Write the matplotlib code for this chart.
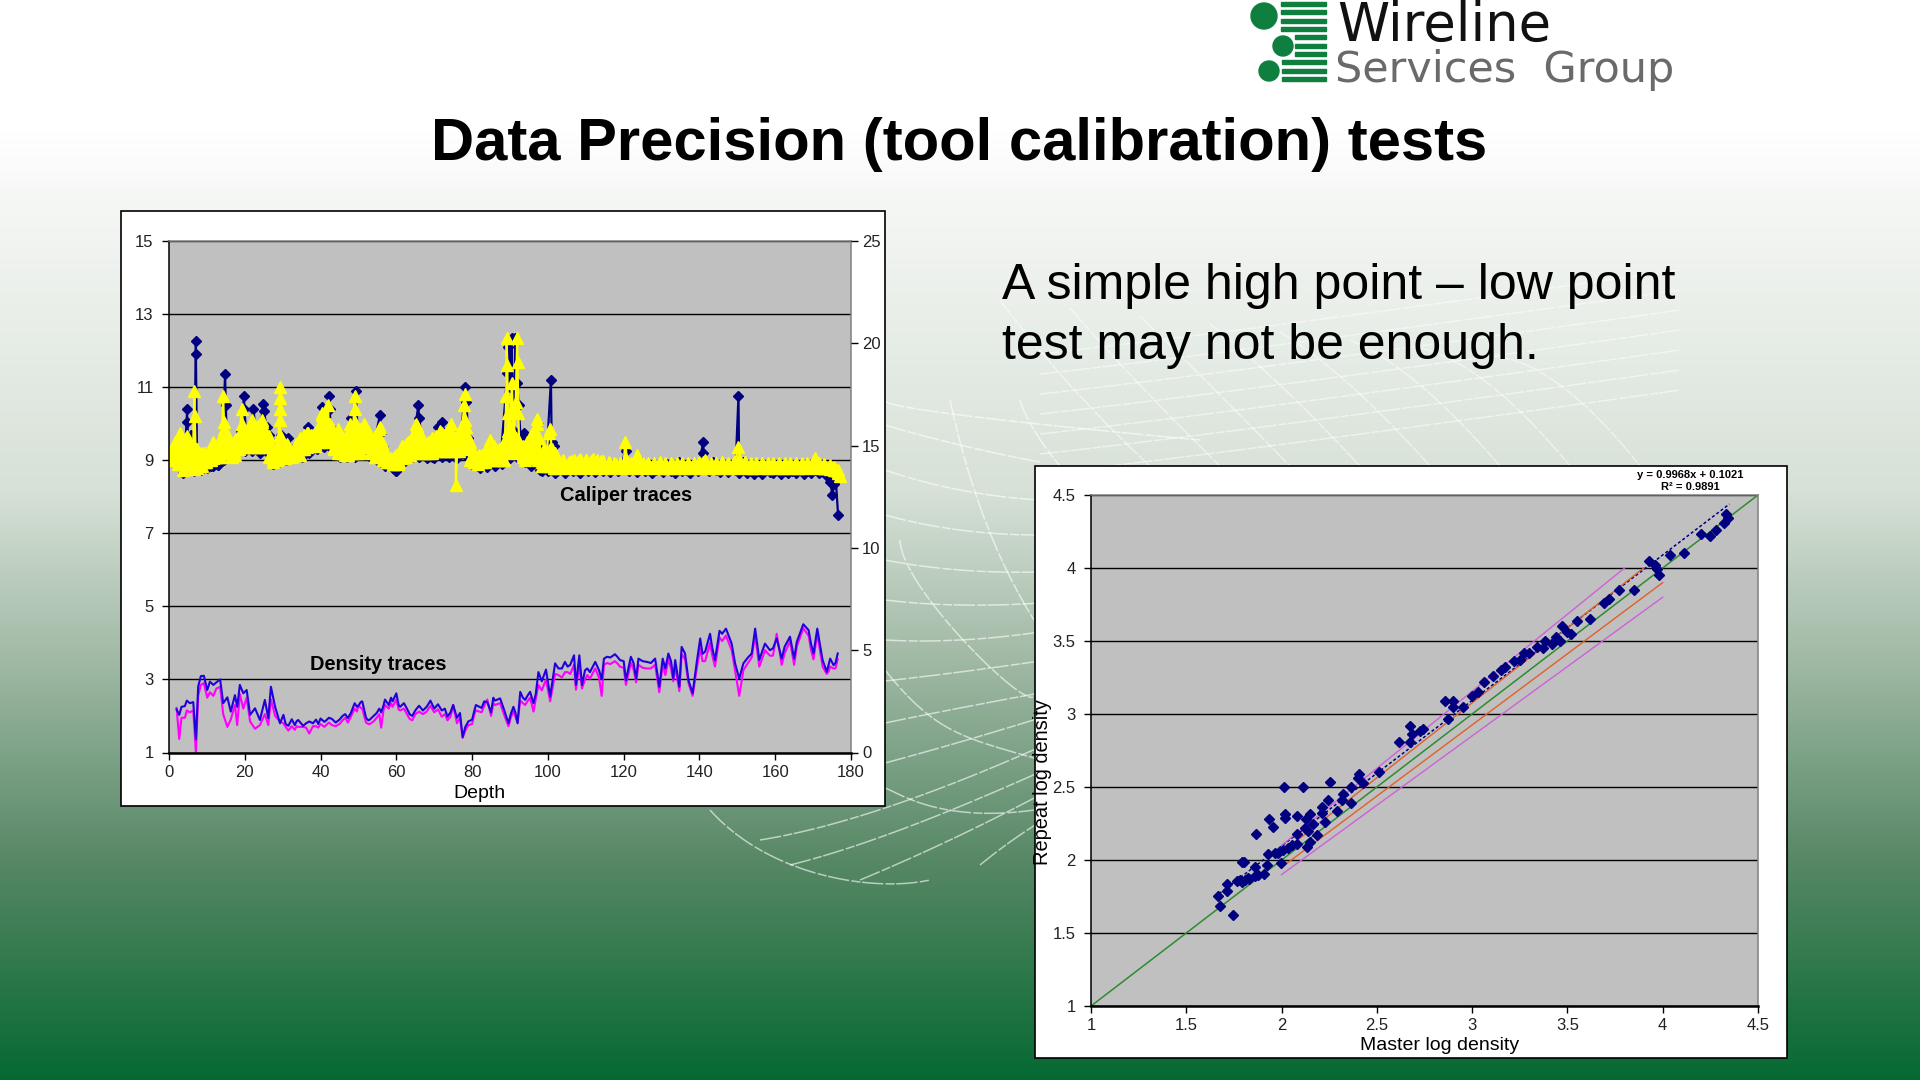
import numpy as np
import matplotlib
matplotlib.use("Agg")
import matplotlib.pyplot as plt
from matplotlib.patches import Rectangle, Circle

plt.rcParams['font.family'] = ['Liberation Sans', 'DejaVu Sans']

# caliper traces (depth, reading)
navy_depth = [0.8, 1.3, 1.8, 2.4, 3.0, 3.8, 4.3, 4.8, 4.8, 5.3,
              5.8, 6.3, 6.6, 7.1, 7.1, 7.4, 8.0, 9.0, 10.0, 11.0,
              12.0, 13.0, 14.0, 14.8, 15.0, 15.3, 16.0, 17.0, 18.0, 19.0,
              19.8, 19.9, 20.5, 21.2, 22.3, 23.0, 24.0, 24.9, 25.0, 25.8,
              26.5, 27.2, 27.5, 28.0, 29.0, 29.5, 30.0, 31.5, 32.5, 33.5,
              35.0, 36.8, 38.0, 39.5, 40.3, 41.0, 42.3, 42.4, 43.0, 44.0,
              45.0, 46.5, 47.5, 48.0, 49.0, 49.3, 50.0, 51.0, 52.0, 53.5,
              55.7, 55.9, 56.5, 57.5, 58.5, 60.0, 61.0, 62.5, 64.0, 65.8,
              66.0, 67.0, 68.4, 69.5, 71.0, 72.0, 73.0, 74.0, 75.5, 77.0,
              78.0, 78.5, 79.0, 80.0, 81.5, 83.0, 84.7, 86.0, 87.5, 89.3,
              89.6, 90.0, 90.4, 90.6, 91.0, 91.4, 91.9, 92.3, 92.8, 93.8,
              94.5, 95.5, 96.5, 97.5, 97.8, 98.5, 99.5, 100.8, 101.0, 101.5,
              102.5, 103.5, 104.5, 105.5, 106.5, 107.5, 108.5, 109.5, 110.5, 111.5,
              112.5, 113.5, 114.5, 115.5, 116.5, 117.5, 118.5, 119.5, 120.4, 120.6,
              121.5, 122.5, 123.5, 124.5, 125.5, 126.5, 127.5, 128.5, 129.5, 130.5,
              131.5, 132.5, 133.5, 134.5, 135.5, 136.5, 137.5, 138.5, 139.5, 141.0,
              141.0, 141.5, 142.5, 143.5, 144.5, 145.5, 146.5, 147.5, 148.5, 149.5,
              150.3, 150.5, 151.5, 152.5, 153.5, 154.5, 155.5, 156.5, 157.5, 158.5,
              159.5, 160.5, 161.5, 162.5, 163.5, 164.5, 165.5, 166.5, 167.5, 168.5,
              169.5, 170.5, 171.5, 172.5, 173.5, 174.5, 175.1, 175.5, 176.0, 176.6]
navy_val = [9.1, 9.0, 9.3, 9.05, 9.5, 8.65, 9.4, 10.4, 10.05, 9.3,
            9.7, 9.0, 8.7, 12.25, 11.9, 9.1, 8.85, 8.8, 9.2, 8.85,
            9.2, 8.87, 9.1, 11.35, 10.5, 9.3, 9.4, 9.15, 9.3, 9.8,
            10.75, 10.4, 9.5, 9.4, 10.4, 9.6, 9.8, 10.55, 10.35, 9.9,
            9.7, 9.5, 8.9, 9.3, 9.1, 9.7, 9.3, 9.6, 9.2, 9.4,
            9.4, 9.9, 9.45, 9.5, 10.45, 9.7, 10.75, 10.4, 9.3, 9.8,
            9.25, 9.2, 9.2, 10.15, 9.6, 10.9, 9.3, 9.2, 9.7, 9.15,
            10.25, 9.75, 9.35, 9.1, 8.85, 8.7, 8.95, 9.15, 9.15, 10.5,
            10.15, 9.4, 9.1, 9.1, 9.9, 10.05, 9.7, 9.3, 9.1, 9.3,
            11.0, 10.6, 9.6, 8.9, 8.85, 8.95, 9.2, 9.1, 9.0, 11.4,
            12.1, 11.0, 12.35, 11.2, 9.8, 12.35, 11.1, 10.5, 9.6, 9.75,
            9.0, 8.85, 9.2, 10.0, 9.3, 8.7, 8.8, 11.2, 9.5, 9.4,
            8.7, 8.75, 8.65, 8.78, 8.7, 8.78, 8.65, 8.75, 8.7, 8.78,
            8.67, 8.75, 8.7, 8.78, 8.68, 8.75, 8.7, 8.75, 9.35, 9.25,
            8.7, 8.75, 8.68, 8.95, 8.7, 8.78, 8.65, 8.72, 8.78, 8.68,
            8.9, 8.7, 8.65, 8.95, 8.7, 8.72, 8.66, 8.75, 8.7, 9.49,
            9.21, 8.75, 8.7, 8.95, 8.72, 8.68, 8.75, 8.68, 8.78, 8.72,
            10.77, 8.65, 8.95, 8.65, 8.72, 8.62, 8.7, 8.63, 8.72, 8.68,
            8.65, 8.72, 8.63, 8.7, 8.66, 8.7, 8.65, 8.72, 8.62, 8.7,
            8.66, 8.72, 8.64, 8.68, 8.6, 8.4, 8.05, 8.35, 8.45, 7.49]

# lower edge of the navy band below the yellow one
navy_low_depth = [1.0, 2.5, 4.0, 5.5, 7.0, 8.5, 10.0, 11.5, 13.0, 14.5,
                  16.0, 18.0, 20.0, 22.0, 24.0, 26.0, 27.5, 29.0, 31.0, 33.0,
                  35.0, 37.0, 39.0, 41.0, 43.0, 45.0, 47.0, 49.0, 51.0, 53.0,
                  55.0, 57.0, 59.0, 60.0, 62.0, 64.0, 66.0, 68.0, 70.0, 72.0,
                  74.0, 76.0, 78.0, 80.0, 82.0, 84.0, 86.0, 88.0, 90.0, 92.0,
                  94.0, 96.0, 98.0, 100.0, 102.0]
navy_low_val = [9.1, 9.0, 8.7, 8.8, 8.72, 8.72, 8.8, 8.85, 8.87, 9.0,
                9.15, 9.2, 9.25, 9.25, 9.2, 9.2, 8.9, 8.95, 9.0, 9.05,
                9.1, 9.2, 9.3, 9.35, 9.4, 9.1, 9.1, 9.1, 9.15, 9.1,
                9.0, 8.85, 8.8, 8.7, 8.95, 9.05, 9.1, 9.05, 9.05, 9.1,
                9.1, 9.05, 9.15, 8.9, 8.8, 8.82, 8.85, 8.9, 9.05, 9.05,
                8.95, 8.9, 8.72, 8.7, 8.65]

yellow_depth = [0.8, 1.3, 1.8, 2.3, 2.9, 3.3, 3.8, 4.2, 4.7, 5.2,
                5.8, 6.3, 6.7, 6.8, 7.0, 7.4, 8.0, 8.6, 9.2, 9.8,
                10.4, 11.0, 11.7, 12.2, 12.8, 13.4, 14.0, 14.3, 14.5, 14.8,
                15.4, 16.0, 16.6, 17.2, 17.8, 18.4, 19.2, 19.2, 19.3, 19.5,
                20.0, 20.6, 21.2, 21.8, 22.2, 22.8, 23.4, 24.0, 24.6, 25.2,
                25.8, 26.4, 27.0, 27.4, 27.9, 28.4, 28.9, 29.3, 29.3, 29.3,
                29.3, 29.3, 29.6, 30.0, 30.6, 31.2, 31.8, 32.4, 33.0, 33.6,
                34.2, 34.8, 35.4, 36.0, 36.8, 37.4, 38.0, 38.6, 39.2, 39.8,
                40.3, 40.8, 41.4, 42.0, 42.1, 42.3, 42.9, 43.5, 44.1, 44.7,
                45.3, 45.9, 46.5, 47.2, 47.8, 48.4, 49.0, 49.0, 49.1, 49.2,
                49.8, 50.4, 51.0, 51.7, 52.4, 53.0, 53.6, 54.2, 54.8, 55.4,
                55.7, 56.2, 56.8, 57.4, 58.0, 58.6, 59.2, 60.0, 60.6, 61.2,
                61.8, 62.4, 63.0, 63.6, 64.2, 64.8, 65.3, 65.6, 66.2, 66.8,
                67.4, 68.0, 68.4, 69.0, 69.6, 70.2, 70.8, 71.4, 72.0, 72.6,
                73.2, 73.8, 74.4, 75.0, 75.7, 75.7, 76.2, 76.8, 77.4, 77.9,
                78.1, 78.2, 78.6, 79.0, 79.6, 80.2, 80.7, 81.3, 81.9, 82.5,
                83.1, 83.7, 84.3, 84.7, 85.3, 85.9, 86.5, 87.1, 87.7, 88.2,
                88.7, 89.0, 89.1, 89.3, 89.4, 89.6, 90.0, 90.5, 90.7, 91.0,
                91.5, 91.9, 92.0, 92.2, 92.4, 92.8, 93.3, 94.0, 94.6, 95.2,
                95.8, 96.3, 97.0, 97.2, 97.5, 98.0, 98.5, 99.0, 99.6, 100.2,
                100.6, 101.0, 101.5, 102.0, 102.6, 103.0, 104.0, 105.0, 106.0, 107.0,
                108.0, 109.0, 110.0, 111.0, 112.0, 113.0, 114.0, 115.0, 116.0, 117.0,
                118.0, 119.0, 120.0, 120.4, 121.0, 122.0, 123.4, 124.0, 125.0, 126.0,
                127.0, 128.0, 129.0, 130.0, 131.0, 132.0, 133.0, 134.0, 135.0, 136.0,
                137.0, 138.0, 139.0, 140.0, 141.0, 142.0, 143.0, 144.0, 145.0, 146.0,
                147.0, 148.0, 149.0, 150.3, 151.0, 152.0, 153.0, 154.0, 155.0, 156.0,
                157.0, 158.0, 159.0, 160.0, 161.0, 162.0, 163.0, 164.0, 165.0, 166.0,
                167.0, 168.0, 169.0, 170.5, 171.0, 172.0, 173.0, 174.0, 175.0, 176.0,
                177.0]
yellow_val = [9.1, 9.3, 9.45, 9.2, 9.75, 9.1, 8.72, 9.3, 9.65, 9.05,
              9.3, 9.0, 10.9, 10.2, 9.3, 8.9, 9.1, 8.85, 9.2, 8.95,
              9.15, 9.0, 9.5, 9.1, 9.25, 9.1, 9.7, 10.75, 10.05, 9.6,
              9.5, 9.3, 9.1, 9.25, 9.55, 9.4, 10.4, 10.0, 9.7, 9.4,
              9.8, 9.4, 9.8, 10.1, 9.5, 9.9, 9.4, 9.9, 10.1, 9.7,
              9.5, 9.65, 9.1, 8.95, 9.3, 9.0, 9.4, 11.0, 10.7, 10.4,
              10.1, 9.7, 9.05, 9.2, 9.35, 9.45, 9.2, 9.15, 9.3, 9.2,
              9.4, 9.3, 9.6, 9.5, 9.75, 9.6, 9.65, 9.45, 9.6, 9.8,
              10.3, 9.8, 10.1, 10.5, 10.0, 9.5, 9.7, 9.35, 9.6, 9.8,
              9.5, 9.2, 9.4, 9.15, 10.0, 9.4, 10.75, 10.4, 10.05, 9.6,
              9.2, 9.5, 9.8, 9.95, 9.7, 9.2, 9.5, 9.3, 9.55, 9.85,
              9.9, 9.5, 9.3, 9.1, 8.95, 9.0, 8.9, 9.15, 8.95, 9.15,
              9.35, 9.15, 9.5, 9.2, 9.3, 9.5, 10.0, 9.7, 9.5, 9.3,
              9.4, 9.25, 9.5, 9.25, 9.45, 9.3, 9.6, 9.3, 9.75, 9.4,
              9.7, 9.4, 10.0, 9.5, 9.4, 8.33, 9.6, 9.7, 9.9, 10.5,
              10.8, 10.1, 9.7, 9.4, 9.1, 9.0, 9.15, 8.95, 9.15, 9.05,
              9.2, 9.1, 9.35, 9.55, 9.2, 9.4, 9.1, 9.3, 9.1, 9.0,
              9.5, 10.75, 12.35, 11.6, 10.3, 9.6, 9.9, 11.1, 10.35, 9.6,
              10.6, 12.35, 11.7, 10.3, 9.5, 9.3, 9.15, 9.0, 9.4, 9.15,
              9.7, 9.5, 10.0, 10.14, 9.6, 9.1, 8.95, 9.3, 9.2, 9.75,
              9.85, 9.3, 9.0, 9.2, 8.95, 8.85, 8.92, 8.82, 8.98, 8.85,
              8.98, 8.82, 9.0, 8.85, 9.03, 8.82, 8.98, 8.82, 8.92, 8.82,
              8.9, 8.82, 8.88, 9.5, 8.85, 8.82, 9.15, 8.85, 8.82, 8.88,
              8.82, 8.85, 8.88, 8.8, 8.85, 8.8, 8.88, 8.82, 8.85, 8.8,
              8.88, 8.82, 8.85, 8.8, 8.95, 8.85, 8.82, 8.8, 8.85, 8.82,
              8.85, 8.8, 8.85, 9.35, 8.85, 8.95, 8.82, 8.8, 8.85, 8.82,
              8.85, 8.8, 8.85, 8.82, 8.85, 8.8, 8.85, 8.82, 8.85, 8.8,
              8.85, 8.82, 8.85, 9.05, 8.85, 8.82, 8.8, 8.8, 8.78, 8.72,
              8.58]

# solid part of the yellow band: low and high edge at each depth
band_depth = [0.8, 1.5, 2.5, 3.5, 4.5, 5.5, 6.5, 7.5, 8.5, 9.5,
              10.5, 11.5, 12.5, 13.5, 14.5, 15.5, 16.5, 17.5, 18.5, 19.5,
              20.5, 21.5, 22.5, 23.5, 24.5, 25.5, 26.5, 27.5, 28.5, 29.5,
              30.5, 31.5, 32.5, 33.5, 34.5, 35.5, 36.5, 37.5, 38.5, 39.5,
              40.5, 41.5, 42.5, 43.5, 44.5, 45.5, 46.5, 47.5, 48.5, 49.5,
              50.5, 51.5, 52.5, 53.5, 54.5, 55.5, 56.5, 57.5, 58.5, 59.5,
              60.5, 61.5, 62.5, 63.5, 64.5, 65.5, 66.5, 67.5, 68.5, 69.5,
              70.5, 71.5, 72.5, 73.5, 74.5, 75.5, 76.5, 77.5, 78.5, 79.5,
              80.5, 81.5, 82.5, 83.5, 84.5, 85.5, 86.5, 87.5, 88.5, 89.5,
              90.5, 91.5, 92.5, 93.5, 94.5, 95.5, 96.5, 97.5, 98.5, 99.5,
              100.5, 101.5, 102.5, 104.0, 105.5, 107.0, 108.5, 110.0, 111.5, 113.0,
              114.5, 116.0, 117.5, 119.0, 120.5, 122.0, 123.5, 125.0, 126.5, 128.0,
              129.5, 131.0, 132.5, 134.0, 135.5, 137.0, 138.5, 140.0, 141.5, 143.0,
              144.5, 146.0, 147.5, 149.0, 150.5, 152.0, 153.5, 155.0, 156.5, 158.0,
              159.5, 161.0, 162.5, 164.0, 165.5, 167.0, 168.5, 170.0, 171.5, 173.0,
              174.5, 175.5, 176.5]
band_low = [9.15, 9.0, 8.9, 8.9, 8.85, 8.85, 8.75, 8.8, 8.85, 8.95,
            9.05, 9.05, 9.1, 9.1, 9.2, 9.3, 9.15, 9.15, 9.3, 9.35,
            9.35, 9.35, 9.35, 9.35, 9.35, 9.35, 9.1, 9.0, 9.0, 9.05,
            9.05, 9.2, 9.1, 9.15, 9.15, 9.3, 9.35, 9.4, 9.4, 9.5,
            9.5, 9.55, 9.55, 9.3, 9.2, 9.2, 9.15, 9.2, 9.2, 9.2,
            9.25, 9.35, 9.4, 9.25, 9.1, 9.1, 9.0, 8.95, 8.95, 8.9,
            8.9, 9.05, 9.1, 9.15, 9.2, 9.2, 9.2, 9.2, 9.2, 9.2,
            9.25, 9.25, 9.25, 9.25, 9.25, 9.25, 9.25, 9.4, 9.3, 9.0,
            8.95, 8.9, 8.95, 8.95, 9.0, 9.0, 9.0, 9.0, 9.0, 9.2,
            9.25, 9.25, 9.2, 9.1, 9.05, 9.05, 9.05, 9.0, 8.85, 8.85,
            8.85, 8.8, 8.8, 8.82, 8.8, 8.82, 8.8, 8.82, 8.8, 8.82,
            8.8, 8.82, 8.8, 8.82, 8.8, 8.82, 8.8, 8.82, 8.8, 8.82,
            8.8, 8.82, 8.8, 8.82, 8.8, 8.82, 8.8, 8.82, 8.8, 8.82,
            8.8, 8.82, 8.8, 8.82, 8.8, 8.82, 8.8, 8.82, 8.8, 8.82,
            8.8, 8.82, 8.8, 8.82, 8.8, 8.82, 8.8, 8.82, 8.78, 8.78,
            8.75, 8.72, 8.66]
band_high = [9.25, 9.5, 9.6, 9.55, 9.6, 9.45, 9.4, 9.3, 9.2, 9.2,
             9.25, 9.3, 9.3, 9.45, 9.85, 9.65, 9.4, 9.55, 9.7, 9.85,
             9.8, 9.85, 9.85, 9.95, 10.05, 9.75, 9.55, 9.3, 9.4, 9.5,
             9.35, 9.4, 9.2, 9.45, 9.6, 9.7, 9.75, 9.7, 9.6, 9.95,
             10.25, 10.1, 10.0, 9.75, 9.85, 9.7, 9.6, 9.8, 9.9, 9.85,
             9.85, 10.0, 9.8, 9.55, 9.65, 9.6, 9.35, 9.1, 9.05, 9.1,
             9.15, 9.4, 9.45, 9.5, 9.7, 9.95, 9.7, 9.45, 9.5, 9.6,
             9.65, 9.8, 9.7, 9.7, 9.75, 9.6, 9.6, 10.0, 9.9, 9.5,
             9.15, 9.1, 9.15, 9.2, 9.45, 9.3, 9.25, 9.2, 9.5, 9.8,
             9.7, 9.6, 9.5, 9.4, 9.5, 9.7, 9.8, 9.65, 9.15, 9.1,
             9.3, 9.2, 8.95, 9.0, 8.95, 9.0, 9.02, 9.0, 8.98, 9.0,
             8.98, 8.95, 8.93, 8.93, 9.02, 8.93, 9.0, 8.92, 8.92, 8.92,
             8.95, 8.92, 8.92, 8.92, 8.92, 8.92, 8.92, 8.95, 9.0, 8.93,
             8.92, 8.95, 8.92, 8.95, 9.02, 8.95, 8.92, 8.93, 8.92, 8.92,
             8.93, 8.92, 8.92, 8.92, 8.93, 8.92, 8.92, 8.95, 8.92, 8.9,
             8.88, 8.82, 8.72]

# density traces, same depths for both
density_depth = [2.0, 2.7, 3.3, 4.2, 4.7, 5.5, 6.4, 7.1, 7.7, 8.4,
                 9.2, 10.1, 10.8, 11.7, 12.5, 13.5, 14.3, 15.4, 16.3, 17.4,
                 18.0, 18.7, 19.6, 20.5, 21.4, 22.7, 24.0, 25.3, 26.2, 26.9,
                 28.0, 29.3, 30.2, 31.5, 32.4, 33.2, 34.1, 35.4, 37.0, 38.0,
                 40.0, 41.5, 43.0, 45.0, 46.5, 48.0, 49.0, 50.0, 51.0, 52.0,
                 53.0, 54.0, 55.5, 56.0, 57.0, 58.0, 59.0, 60.0, 61.0, 62.0,
                 63.5, 65.0, 67.0, 69.0, 70.0, 72.0, 73.5, 75.0, 76.0, 77.5,
                 79.0, 80.0, 81.0, 82.5, 84.0, 85.0, 86.0, 87.4, 89.6, 90.9,
                 92.0, 92.7, 94.0, 95.3, 96.2, 97.5, 98.4, 99.5, 100.6, 101.9,
                 103.7, 104.5, 105.9, 106.9, 107.4, 108.3, 109.0, 109.8, 111.1, 112.5,
                 114.2, 114.8, 117.7, 119.0, 120.6, 121.9, 123.3, 123.9, 126.1, 128.3,
                 129.4, 130.3, 131.8, 133.1, 133.6, 134.7, 135.3, 136.2, 137.1, 138.2,
                 139.3, 140.2, 141.5, 142.8, 144.1, 145.3, 147.0, 148.5, 149.4, 150.5,
                 151.6, 153.8, 154.7, 155.8, 157.3, 158.6, 160.4, 161.7, 163.9, 165.0,
                 165.7, 167.4, 168.8, 170.1, 171.1, 172.5, 173.6, 174.5, 175.4, 176.5]
density_blue = [2.18, 2.03, 2.25, 2.27, 2.42, 2.35, 2.38, 1.36, 2.8, 3.09,
                3.1, 2.71, 2.94, 2.85, 2.92, 3.0, 2.35, 2.51, 2.12, 2.57,
                2.25, 2.85, 2.62, 2.71, 2.03, 2.21, 1.89, 2.44, 1.94, 2.8,
                2.25, 1.8, 2.03, 1.73, 1.91, 1.75, 1.89, 1.73, 1.85, 1.8,
                1.93, 1.88, 1.92, 1.9, 2.05, 2.08, 2.35, 2.28, 2.4, 1.95,
                1.9, 2.0, 2.2, 2.1, 2.45, 2.3, 2.4, 2.62, 2.25, 2.35,
                2.05, 2.15, 2.15, 2.42, 2.2, 2.15, 1.98, 2.3, 1.95, 1.42,
                1.85, 1.9, 2.3, 2.22, 2.38, 2.1, 2.42, 2.48, 1.8, 2.25,
                1.8, 2.66, 2.44, 2.66, 2.35, 3.2, 2.95, 3.27, 2.53, 3.44,
                3.3, 3.48, 3.4, 3.66, 2.85, 3.66, 2.85, 3.25, 3.2, 3.48,
                3.0, 3.57, 3.69, 3.53, 2.98, 3.62, 3.02, 3.57, 3.48, 3.57,
                2.8, 3.57, 3.71, 3.02, 3.53, 2.8, 3.89, 3.71, 2.98, 2.62,
                3.48, 4.12, 3.76, 4.25, 3.53, 4.33, 4.39, 3.98, 3.44, 3.02,
                3.44, 3.71, 4.39, 3.53, 3.98, 3.8, 4.12, 3.57, 4.17, 3.57,
                4.03, 4.51, 4.35, 3.71, 4.39, 3.53, 3.21, 3.57, 3.39, 3.71]
density_magenta = [2.22, 1.37, 1.95, 1.95, 2.15, 2.1, 2.15, 1.0, 2.55, 2.85,
                   2.9, 2.5, 2.65, 2.55, 2.75, 2.8, 2.05, 1.7, 1.9, 2.3,
                   1.75, 2.6, 2.2, 2.5, 1.85, 1.65, 1.75, 2.05, 1.75, 2.45,
                   2.0, 1.85, 1.8, 1.6, 1.72, 1.62, 1.7, 1.7, 1.52, 1.72,
                   1.78, 1.75, 1.75, 1.78, 1.95, 1.98, 2.2, 2.3, 2.2, 1.82,
                   1.78, 1.85, 2.05, 1.68, 2.3, 2.2, 2.25, 2.45, 2.15, 2.2,
                   1.92, 2.05, 2.05, 2.28, 2.1, 1.98, 1.88, 2.3, 1.8, 1.4,
                   1.75, 1.78, 2.15, 2.1, 2.45, 2.0, 2.3, 2.35, 1.72, 2.12,
                   1.82, 2.42, 2.3, 2.5, 2.12, 2.85, 2.7, 3.0, 2.4, 3.15,
                   3.05, 3.2, 3.15, 3.4, 2.72, 3.4, 2.75, 3.0, 3.02, 3.3,
                   2.55, 3.4, 3.5, 3.35, 2.85, 3.45, 2.92, 3.4, 3.3, 3.4,
                   2.65, 3.4, 3.55, 2.95, 3.35, 2.68, 3.7, 3.55, 2.9, 2.55,
                   3.3, 3.85, 3.5, 4.0, 3.35, 4.15, 4.2, 3.8, 3.25, 2.55,
                   3.25, 3.6, 4.2, 3.35, 3.8, 3.65, 4.25, 3.4, 4.05, 3.4,
                   3.9, 4.4, 4.2, 3.55, 4.25, 3.35, 3.15, 3.35, 3.3, 3.55]

# finer wiggle of the density traces between the readings above
extra_depth = [30.8, 33.7, 36.2, 38.8, 39.4, 41.0, 42.2, 44.0, 45.8, 47.2,
               49.6, 50.6, 52.6, 54.8, 56.6, 58.6, 60.6, 62.8, 64.2, 66.0,
               68.0, 71.0, 72.8, 74.3, 76.8, 78.2, 80.6, 83.2, 85.6, 88.5,
               90.2, 91.4, 93.4, 94.6, 96.8, 102.8, 105.2, 110.4, 113.5, 115.6,
               116.5, 118.5, 120.0, 122.6, 125.0, 127.2, 131.0, 132.5, 140.8, 143.4,
               146.0, 152.8, 156.5, 159.4, 162.5, 169.5, 174.1, 175.9]
extra_blue = [1.78, 1.86, 1.8, 1.9, 1.78, 1.84, 1.95, 1.82, 2.0, 1.94,
              2.25, 2.38, 1.88, 2.08, 2.28, 2.5, 2.3, 2.2, 2.0, 2.28,
              2.25, 2.32, 2.2, 2.1, 2.08, 1.7, 2.15, 2.4, 2.5, 2.15,
              2.05, 2.1, 2.5, 2.55, 2.6, 3.3, 3.35, 3.3, 3.25, 3.62,
              3.6, 3.6, 3.5, 3.45, 3.5, 3.45, 3.3, 3.5, 3.7, 3.85,
              4.25, 3.6, 3.75, 3.85, 3.9, 3.95, 3.4, 3.45]
extra_magenta = [1.7, 1.72, 1.68, 1.72, 1.68, 1.7, 1.82, 1.72, 1.88, 1.82,
                 2.12, 2.22, 1.78, 1.95, 2.15, 2.35, 2.18, 2.05, 1.88, 2.12,
                 2.12, 2.18, 2.05, 1.98, 1.95, 1.6, 2.05, 2.28, 2.35, 2.02,
                 1.95, 1.98, 2.35, 2.4, 2.45, 3.12, 3.2, 3.12, 3.05, 3.45,
                 3.42, 3.42, 3.32, 3.28, 3.32, 3.3, 3.12, 3.3, 3.5, 3.65,
                 4.05, 3.45, 3.55, 3.65, 3.72, 3.78, 3.22, 3.3]

# repeat vs master log density points
master_x = [1.743, 1.678, 1.668, 1.715, 1.715, 1.764, 1.79, 1.808, 1.825, 1.78,
            1.83, 1.86, 1.878, 1.907, 1.925, 1.86, 1.79, 1.804, 1.93, 1.965,
            1.983, 2.009, 2.035, 2.053, 2.079, 1.999, 1.865, 1.953, 1.935, 2.018,
            2.018, 2.079, 2.149, 2.128, 2.079, 2.122, 2.14, 2.166, 2.184, 2.149,
            2.131, 2.227, 2.21, 2.21, 2.245, 2.014, 2.114, 2.255, 2.289, 2.366,
            2.315, 2.32, 2.364, 2.402, 2.406, 2.429, 2.511, 2.614, 2.674, 2.687,
            2.674, 2.726, 2.743, 2.875, 2.857, 2.9, 2.9, 3.03, 3.06, 3.11,
            3.17, 3.22, 3.27, 3.3, 3.34, 3.38, 3.42, 3.44, 3.47, 3.5,
            3.55, 3.62, 3.69, 3.72, 3.77, 3.85, 3.93, 3.96, 3.97, 3.98,
            4.04, 4.11, 4.2, 4.25, 4.28, 4.33, 4.32, 4.34, 3.15, 3.25,
            3.37, 3.46, 3.52, 2.95, 3.0]
repeat_y = [1.626, 1.683, 1.756, 1.785, 1.836, 1.854, 1.85, 1.865, 1.877, 1.865,
            1.87, 1.888, 1.9, 1.906, 1.963, 1.95, 1.984, 1.984, 2.04, 2.05,
            2.05, 2.066, 2.08, 2.1, 2.11, 1.98, 2.18, 2.226, 2.28, 2.288,
            2.317, 2.304, 2.317, 2.28, 2.18, 2.22, 2.2, 2.25, 2.17, 2.12,
            2.09, 2.26, 2.363, 2.32, 2.413, 2.498, 2.502, 2.534, 2.333, 2.39,
            2.413, 2.452, 2.5, 2.56, 2.59, 2.527, 2.605, 2.808, 2.806, 2.863,
            2.916, 2.884, 2.897, 2.966, 3.09, 3.09, 3.05, 3.15, 3.22, 3.26,
            3.32, 3.36, 3.42, 3.42, 3.46, 3.5, 3.48, 3.53, 3.6, 3.56,
            3.64, 3.65, 3.76, 3.79, 3.85, 3.85, 4.05, 4.02, 3.99, 3.95,
            4.09, 4.1, 4.23, 4.22, 4.26, 4.37, 4.31, 4.34, 3.3, 3.37,
            3.45, 3.5, 3.55, 3.05, 3.12]

one_to_one = [1.0, 4.5]
trend_x = [1.65, 4.35]
trend_y = [1.747, 4.438]
red_low_x, red_low_y = [2.0, 4.0], [1.95, 3.9]
red_high_x, red_high_y = [2.0, 3.9], [2.05, 4.0]
magenta_low_x, magenta_low_y = [2.0, 4.0], [1.9, 3.8]
magenta_high_x, magenta_high_y = [2.0, 3.8], [2.1, 4.0]

left_ticks = [1, 3, 5, 7, 9, 11, 13, 15]
right_ticks = [0, 5, 10, 15, 20, 25]
depth_ticks = [0, 20, 40, 60, 80, 100, 120, 140, 160, 180]
density_ticks = [1, 1.5, 2, 2.5, 3, 3.5, 4, 4.5]
density_labels = ['1', '1.5', '2', '2.5', '3', '3.5', '4', '4.5']

W, H = 1920, 1080
GREEN = '#0f7f3f'


def add_ax(x0, y0, x1, y1, **kw):
    # pixel box, y going down
    return fig.add_axes([x0 / W, 1 - y1 / H, (x1 - x0) / W, (y1 - y0) / H], **kw)


def style_chart(ax):
    ax.set_facecolor('#c0c0c0')
    ax.grid(axis='y', color='black', lw=1.0)
    ax.set_axisbelow(True)
    for side, col in [('left', 'black'), ('bottom', 'black'), ('top', '#808080'), ('right', '#808080')]:
        ax.spines[side].set_color(col)
        ax.spines[side].set_linewidth(1.1)
    ax.spines['bottom'].set_linewidth(1.8)
    ax.tick_params(axis='y', length=5, width=1, labelsize=12, labelcolor='#222222', pad=6)
    ax.tick_params(axis='x', length=5, width=1, labelsize=12, labelcolor='#222222', pad=4)


fig = plt.figure(figsize=(19.2, 10.8), dpi=100)
bg = fig.add_axes([0, 0, 1, 1])
bg.set_xlim(0, W)
bg.set_ylim(H, 0)
bg.axis('off')

# slide background
ys = np.arange(H)
grad = np.zeros((H, 1, 3))
stop_y = [0, 130, 200, 490, 660, 865, 1080]
stops = [(255, 255, 255), (255, 255, 255), (245, 247, 245), (215, 225, 215),
         (160, 185, 165), (85, 135, 100), (5, 105, 50)]
for c in range(3):
    grad[:, 0, c] = np.interp(ys, stop_y, [s[c] for s in stops]) / 255
bg.imshow(grad, extent=[0, W, H, 0], aspect='auto', zorder=0)


def decor(points, lw=1.1, alpha=0.6):
    # smooth white mesh line through a few pixel points, slightly broken like the slide art
    pts = np.array(points, dtype=float)
    t = np.linspace(0, 1, len(pts))
    tt = np.linspace(0, 1, 60)
    deg = min(3, len(pts) - 1)
    xs = np.polyval(np.polyfit(t, pts[:, 0], deg), tt)
    yv = np.polyval(np.polyfit(t, pts[:, 1], deg), tt)
    bg.plot(xs, yv, color='white', lw=lw, alpha=alpha, zorder=1, ls=(0, (14, 1.5, 6, 1)))


# rising mesh lines
for line in [[(885, 640), (960, 640), (1040, 632)],
             [(885, 681), (960, 672), (1040, 661)],
             [(885, 723), (960, 708), (1040, 693)],
             [(885, 763), (960, 742), (1040, 718)],
             [(760, 840), (885, 808), (1040, 747)],
             [(790, 865), (900, 830), (1040, 772)],
             [(860, 880), (950, 840), (1040, 795)],
             [(980, 865), (1010, 842), (1040, 822)],
             [(885, 600), (960, 605), (1040, 603)],
             [(885, 560), (960, 570), (1040, 572)],
             [(885, 515), (960, 530), (1040, 535)],
             [(885, 470), (960, 490), (1040, 500)],
             [(885, 425), (960, 445), (1040, 462)],
             [(885, 400), (960, 415), (1200, 440)]]:
    decor(line)
# falling mesh arcs
for line in [[(900, 540), (932, 603), (993, 670), (1033, 697)],
             [(885, 670), (930, 716), (975, 740), (1034, 758)],
             [(885, 788), (907, 798), (955, 811), (1034, 810)],
             [(710, 810), (780, 860), (860, 882), (930, 880)],
             [(950, 400), (985, 520), (1034, 620)],
             [(1020, 400), (1034, 430), (1060, 466)]]:
    decor(line)
# upper right mesh, behind the text
for i in range(8):
    x0 = 1000 + 70 * i
    decor([(x0, 300 + 8 * i), (x0 + 70, 385), (x0 + 150, 466)], lw=1.0, alpha=0.55)
for i in range(7):
    y0 = 340 + 20 * i
    decor([(1040, y0 + 14), (1300, y0 - 18), (1680, y0 - 70)], lw=1.0, alpha=0.55)

# logo
bg.add_patch(Circle((1264, 16), 13, color=GREEN, zorder=3))
bg.add_patch(Circle((1283, 46), 10, color=GREEN, zorder=3))
bg.add_patch(Circle((1269, 71), 10, color=GREEN, zorder=3))
for y, x0 in [(4, 1281), (12, 1281), (21, 1281), (29, 1281), (37, 1295), (46, 1295),
              (54, 1295), (62, 1282), (71, 1282), (79, 1282)]:
    bg.add_patch(Rectangle((x0, y - 2), 1326 - x0, 4, color=GREEN, zorder=3))
bg.text(1337, 41, 'Wireline', fontsize=38, family='DejaVu Sans', color='#111111',
        va='baseline', ha='left', zorder=3)
bg.text(1335, 82, 'Services  Group', fontsize=31, family='DejaVu Sans', color='#6a6a6a',
        va='baseline', ha='left', zorder=3)

# title and side text
bg.text(959, 145, 'Data Precision (tool calibration) tests', fontsize=43, weight='bold',
        color='black', ha='center', va='center', zorder=3)
bg.text(1002, 286, 'A simple high point \u2013 low point', fontsize=36, color='black',
        ha='left', va='center', zorder=3)
bg.text(1002, 346, 'test may not be enough.', fontsize=36, color='black',
        ha='left', va='center', zorder=3)

# chart frames
bg.add_patch(Rectangle((121, 211), 764, 595, fc='white', ec='black', lw=1.2, zorder=2))
bg.add_patch(Rectangle((1035, 466), 752, 592, fc='white', ec='black', lw=1.2, zorder=2))

# left chart
ax1 = add_ax(169, 241, 851, 752.5)
style_chart(ax1)
ax1.set_xlim(0, 180)
ax1.set_ylim(1, 15)
ax1.set_xticks(depth_ticks)
ax1.set_yticks(left_ticks)

order = np.argsort(density_depth + extra_depth)
d_all = np.array(density_depth + extra_depth)[order]
ax1.plot(d_all, np.array(density_magenta + extra_magenta)[order], color='#ff00ff', lw=1.5)
ax1.plot(d_all, np.array(density_blue + extra_blue)[order], color='#2200dd', lw=1.5)

ax1.plot(navy_low_depth, navy_low_val, color='#000080', lw=1.5, marker='D', ms=5.5)
ax1.plot(navy_depth, navy_val, color='#000080', lw=1.6, marker='D', ms=5.5)
zig_d = np.repeat(band_depth, 2)
zig_v = np.column_stack([band_low, band_high]).ravel()
ax1.plot(zig_d, zig_v, color='#ffff00', lw=2, marker='^', ms=8, mec='#ffff00')
ax1.plot(yellow_depth, yellow_val, color='#ffff00', lw=1.6, marker='^', ms=8, mec='#ffff00')
ax1.text(120.6, 8.03, 'Caliper traces', fontsize=14.4, weight='bold', ha='center', va='center')
ax1.text(55.2, 3.42, 'Density traces', fontsize=14.4, weight='bold', ha='center', va='center')
ax1.text(82, -0.12, 'Depth', fontsize=14, ha='center', va='center')

ax1r = ax1.twinx()
ax1r.set_ylim(0, 25)
ax1r.set_yticks(right_ticks)
ax1r.tick_params(length=5, width=1, labelsize=12, labelcolor='#222222', pad=3)
ax1r.patch.set_visible(False)
for s in ax1r.spines.values():
    s.set_visible(False)
ax1.spines['right'].set_color('#808080')

# right chart
ax2 = add_ax(1091, 495, 1758, 1006)
style_chart(ax2)
ax2.set_xlim(1, 4.5)
ax2.set_ylim(1, 4.5)
ax2.set_xticks(density_ticks, density_labels)
ax2.set_yticks(density_ticks, density_labels)
ax2.plot(one_to_one, one_to_one, color='#2e8b2e', lw=1.1)
ax2.plot(trend_x, trend_y, color='#000080', lw=1.1, ls=(0, (2, 1.5)))
ax2.plot(red_low_x, red_low_y, color='#e0602a', lw=1)
ax2.plot(red_high_x, red_high_y, color='#e0602a', lw=1)
ax2.plot(magenta_low_x, magenta_low_y, color='#d060d8', lw=1)
ax2.plot(magenta_high_x, magenta_high_y, color='#d060d8', lw=1)
ax2.plot(master_x, repeat_y, ls='none', marker='D', ms=5, color='#000080', zorder=5)

# axis titles and the fit label sit outside the grey plot area
bg.text(1440, 1045, 'Master log density', fontsize=14, ha='center', va='center', zorder=3)
bg.text(1042, 782, 'Repeat log density', fontsize=14.4, rotation=90, ha='center', va='center', zorder=3)
bg.text(1690, 475, 'y = 0.9968x + 0.1021', fontsize=8, weight='bold', ha='center', va='center', zorder=3)
bg.text(1690, 487, 'R\u00b2 = 0.9891', fontsize=8, weight='bold', ha='center', va='center', zorder=3)

fig.savefig('out.png', dpi=100)
